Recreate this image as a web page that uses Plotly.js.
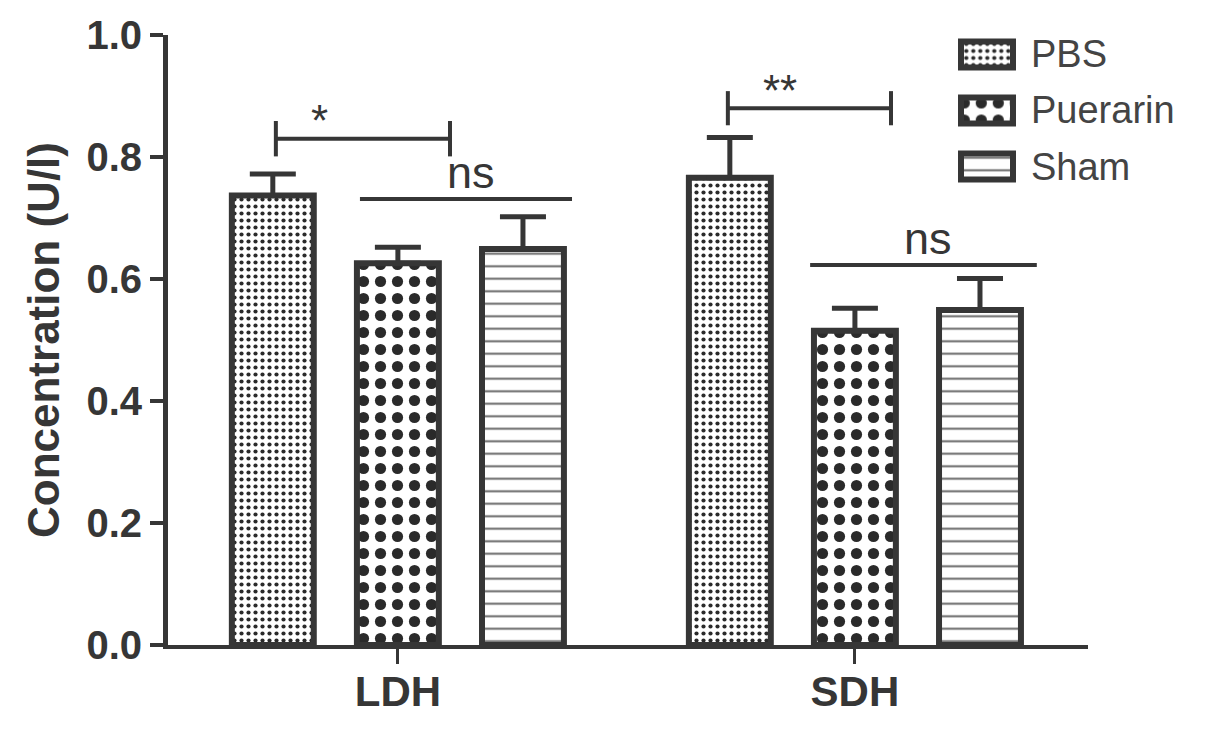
<!DOCTYPE html>
<html>
<head>
<meta charset="utf-8">
<script src="https://cdn.plot.ly/plotly-3.0.1.min.js"></script>
<style>html,body{margin:0;padding:0;background:#fff;}#chart{width:1205px;height:731px;}</style>
</head>
<body>
<div id="chart"></div>
<script>
// ---- data ----
const categories = ['LDH', 'SDH'];
const groupNames = ['PBS', 'Puerarin', 'Sham'];
const pbsMean = [0.737, 0.766];
const pbsSE = [0.035, 0.066];
const puerarinMean = [0.626, 0.515];
const puerarinSE = [0.026, 0.037];
const shamMean = [0.649, 0.549];
const shamSE = [0.053, 0.052];
const sigLabels = ['*', '**'];
const nsLabels = ['ns', 'ns'];

// ---- styles ----
const FONT = 'Liberation Sans, Arial, Helvetica, sans-serif';
const INK = '#363636';
const patterns = [
  {shape: '.', size: 7, solidity: 0.28, fgcolor: '#2a2a2a', bgcolor: '#ffffff', fillmode: 'replace'},
  {shape: '.', size: 17, solidity: 0.34, fgcolor: '#2a2a2a', bgcolor: '#ffffff', fillmode: 'replace'},
  {shape: '-', size: 12.5, solidity: 0.16, fgcolor: '#6a6a6a', bgcolor: '#ffffff', fillmode: 'replace'}
];
const means = [pbsMean, puerarinMean, shamMean];
const ses = [pbsSE, puerarinSE, shamSE];

const traces = groupNames.map((name, i) => ({
  type: 'bar',
  name: name,
  x: categories,
  y: means[i],
  marker: {color: '#ffffff', line: {color: INK, width: 6}, pattern: patterns[i]},
  error_y: {type: 'data', symmetric: false, array: ses[i], arrayminus: ses[i].map(() => 0),
            color: INK, thickness: 5, width: 23},
  showlegend: false,
  hoverinfo: 'skip'
}));

// legend swatches drawn as small horizontal bars on an auxiliary subplot
groupNames.forEach((name, i) => {
  traces.push({
    type: 'bar',
    orientation: 'h',
    x: [1],
    y: [name],
    base: 0,
    width: 0.46,
    xaxis: 'x2',
    yaxis: 'y2',
    marker: {color: '#ffffff', line: {color: INK, width: 6}, pattern: patterns[i]},
    showlegend: false,
    hoverinfo: 'skip'
  });
});

// significance brackets (offsets relative to the category index)
const brackets = [
  {cat: 0, x0: -0.267, x1: 0.114, y: 0.830, h: 0.029},
  {cat: 1, x0: -0.278, x1: 0.079, y: 0.880, h: 0.028}
];
const nsLines = [
  {cat: 0, x0: -0.083, x1: 0.381, y: 0.731},
  {cat: 1, x0: -0.098, x1: 0.398, y: 0.623}
];

const shapes = [];
const annotations = [];
brackets.forEach((b, i) => {
  const ln = {type: 'line', xref: 'x', yref: 'y', line: {color: INK, width: 4}};
  const a = b.cat + b.x0, c = b.cat + b.x1;
  shapes.push(Object.assign({}, ln, {x0: a, x1: c, y0: b.y, y1: b.y}));
  shapes.push(Object.assign({}, ln, {x0: a, x1: a, y0: b.y - b.h, y1: b.y + b.h}));
  shapes.push(Object.assign({}, ln, {x0: c, x1: c, y0: b.y - b.h, y1: b.y + b.h}));
  annotations.push({xref: 'x', yref: 'y', x: a + 0.095 + i * 0.02, y: b.y - 0.014, xanchor: 'center', yanchor: 'bottom',
    text: sigLabels[i], showarrow: false, font: {family: FONT, size: 44, color: INK}});
});
nsLines.forEach((n, i) => {
  const a = n.cat + n.x0, c = n.cat + n.x1;
  shapes.push({type: 'line', xref: 'x', yref: 'y', x0: a, x1: c, y0: n.y, y1: n.y, line: {color: INK, width: 4}});
  annotations.push({xref: 'x', yref: 'y', x: (a + c) / 2 + 0.01, y: n.y - 0.002, xanchor: 'center', yanchor: 'bottom',
    text: nsLabels[i], showarrow: false, font: {family: FONT, size: 45, color: INK}});
});
// legend labels
groupNames.forEach((name, i) => {
  annotations.push({xref: 'paper', yref: 'y2', x: 0.936, y: name, xanchor: 'left', yanchor: 'middle',
    text: name, showarrow: false, font: {family: FONT, size: 38, color: '#444'}});
});

const layout = {
  width: 1205,
  height: 731,
  margin: {l: 168, r: 117, t: 4, b: 86},
  paper_bgcolor: '#ffffff',
  plot_bgcolor: '#ffffff',
  barmode: 'group',
  bargap: 0.179,
  bargroupgap: 0.345,
  showlegend: false,
  xaxis: {
    type: 'category', range: [-0.503, 1.51], domain: [0, 1], anchor: 'y',
    showline: true, linewidth: 4, linecolor: INK,
    ticks: 'outside', ticklen: 15, tickwidth: 3, tickcolor: INK, ticklabelstandoff: -8,
    tickfont: {family: FONT, size: 42, color: INK, weight: 'bold'},
    showgrid: false, zeroline: false, automargin: false, fixedrange: true
  },
  yaxis: {
    domain: [0, 610 / 641], range: [0, 1], dtick: 0.2, tickformat: '.1f',
    showline: true, linewidth: 5, linecolor: INK,
    ticks: 'outside', ticklen: 13, tickwidth: 4, tickcolor: INK,
    tickfont: {family: FONT, size: 40, color: INK, weight: 'bold'},
    title: {text: 'Concentration (U/l)', font: {family: FONT, size: 44, color: INK, weight: 'bold'}, standoff: 14},
    showgrid: false, zeroline: false, automargin: false, fixedrange: true
  },
  xaxis2: {domain: [0.8563, 0.9241], range: [-0.1, 1.1], anchor: 'y2', visible: false, fixedrange: true},
  yaxis2: {domain: [0.7028, 0.9649], range: [2.5, -0.5], type: 'category', anchor: 'x2', visible: false, fixedrange: true},
  shapes: shapes,
  annotations: annotations
};

Plotly.newPlot('chart', traces, layout, {staticPlot: true, displayModeBar: false});
</script>
</body>
</html>
